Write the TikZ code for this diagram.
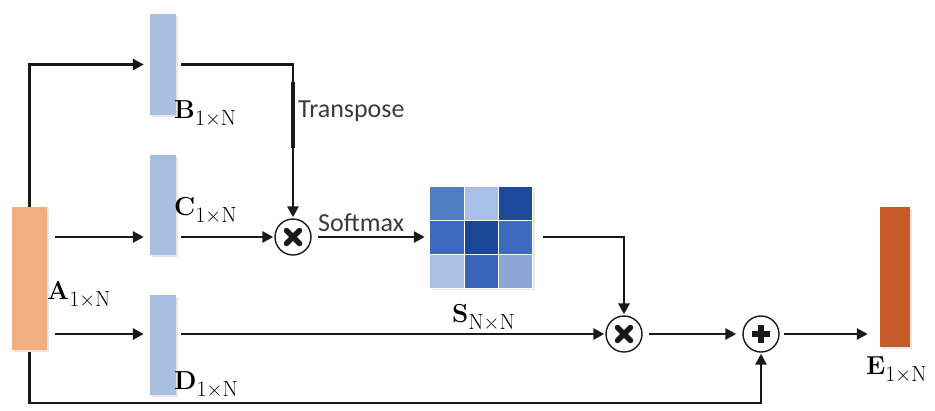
\documentclass[tikz,border=0pt]{standalone}
\usepackage{fontspec}
\newfontfamily\calib{Carlito}
\usetikzlibrary{arrows.meta,shadows}

\definecolor{peach}{RGB}{242,174,128}
\definecolor{lavblue}{RGB}{170,190,226}
\definecolor{rust}{RGB}{198,90,42}
\definecolor{ink}{RGB}{25,25,25}

% bold letter with a 1xN style subscript
\newcommand{\dimlbl}[2]{\textbf{#1}\raisebox{-7pt}{\fontsize{22}{24}\selectfont #2}}

\begin{document}
\begin{tikzpicture}[
  x=1pt, y=-1pt,
  bar/.style={rectangle, minimum width=26pt, minimum height=100pt, inner sep=0pt,
    fill=lavblue, drop shadow={opacity=0.2, shadow xshift=1.5pt, shadow yshift=-1.5pt}},
  op/.style={circle, draw=ink, line width=1.4pt, minimum size=36pt, inner sep=0pt},
  times/.style={op, path picture={
    \draw[ink, line width=5.5pt, line cap=round]
      ([shift={(-6.5pt,-6.5pt)}]path picture bounding box.center) -- ([shift={(6.5pt,6.5pt)}]path picture bounding box.center)
      ([shift={(-6.5pt,6.5pt)}]path picture bounding box.center) -- ([shift={(6.5pt,-6.5pt)}]path picture bounding box.center);}},
  plus/.style={op, path picture={
    \draw[ink, line width=6pt]
      ([shift={(-9pt,0pt)}]path picture bounding box.center) -- ([shift={(9pt,0pt)}]path picture bounding box.center)
      ([shift={(0pt,-9pt)}]path picture bounding box.center) -- ([shift={(0pt,9pt)}]path picture bounding box.center);}},
  e/.style={draw=ink, line width=2.8pt, -{Triangle[length=11pt,width=11pt]}},
  lbl/.style={anchor=base west, inner sep=0pt, font=\fontsize{26}{30}\selectfont},
  txt/.style={anchor=base west, inner sep=0pt, text=ink!85, font=\calib\fontsize{26}{30}\selectfont}
]
\useasboundingbox (0,0) rectangle (935,410);

% bars
\node[bar, fill=peach, minimum width=35pt, minimum height=143pt] (A) at (29.5,278.5) {};
\node[bar, minimum height=101pt] (B) at (163,64.5) {};
\node[bar] (C) at (163,205) {};
\node[bar] (D) at (163,345) {};
\node[bar, fill=rust, minimum width=30pt, minimum height=140pt] (E) at (895,277) {};

% operators
\node[times] (m1) at (293,237) {};
\node[times] (m2) at (624,334) {};
\node[plus] (p) at (761,334) {};

% similarity matrix
\node[rectangle, minimum width=103pt, minimum height=102pt, inner sep=0pt, fill=white,
  drop shadow={opacity=0.2, shadow xshift=1.5pt, shadow yshift=-1.5pt}] (S) at (481.5,237.5) {};
\foreach \vr/\vg/\vb [count=\i from 0] in {
    80/125/196, 170/191/230, 30/74/155,
    60/106/190, 26/70/150, 62/108/188,
    172/192/228, 56/101/186, 142/166/214} {
  \pgfmathtruncatemacro\col{mod(\i,3)}
  \pgfmathtruncatemacro\row{div(\i,3)}
  \definecolor{cell}{RGB}{\vr,\vg,\vb}
  \fill[cell, draw=white, line width=0.8pt] ([shift={(\col*34.33pt,-\row*34pt)}]S.north west) rectangle ++(34.33pt,-34pt);
}

% labels
\node[lbl] (la) at (47,299) {\dimlbl{A}{1×N}};
\node[lbl] (lb) at (174,118) {\dimlbl{B}{1×N}};
\node[lbl] (lc) at (174,215) {\dimlbl{C}{1×N}};
\node[lbl] (ld) at (174,389) {\dimlbl{D}{1×N}};
\node[lbl] (ls) at (452,322) {\dimlbl{S}{N×N}};
\node[lbl] (le) at (866,374) {\dimlbl{E}{1×N}};

\coordinate (t1) at (293,82);
\coordinate (t2) at (293,148);
\coordinate (low) at (761,403);

% connectors
\draw[e, shorten >=6pt] (A.north) |- (B.west);
\draw[e, shorten <=5pt, shorten >=1pt] (B.east) -| (m1.north);
\draw[ink, line width=4.5pt] (t1) -- (t2);
\node[txt] (tr) at (298,117) {Transpose};
\draw[e, shorten <=8pt, shorten >=6pt] (A.east |- m1) -- (C.west |- m1);
\draw[e, shorten <=5pt, shorten >=1pt] (C.east |- m1) -- (m1.west);
\draw[e, shorten <=6pt, shorten >=5pt] (m1.east) -- (S.west |- m1);
\node[txt] (sm) at (318,231) {Softmax};
\draw[e, shorten <=10pt, shorten >=1pt] (S.east |- m1) -| (m2.north);
\draw[e, shorten <=8pt, shorten >=6pt] (A.east |- m2) -- (D.west |- m2);
\draw[e, shorten <=5pt, shorten >=1pt] (D.east |- m2) -- (m2.west);
\draw[e, shorten <=6pt, shorten >=6pt] (m2.east) -- (p.west);
\draw[e, shorten <=4pt, shorten >=12pt] (p.east) -- (E.west |- p);
\draw[e, shorten <=2pt, shorten >=1pt] (A.south) |- (low) -- (p.south);
\end{tikzpicture}
\end{document}
